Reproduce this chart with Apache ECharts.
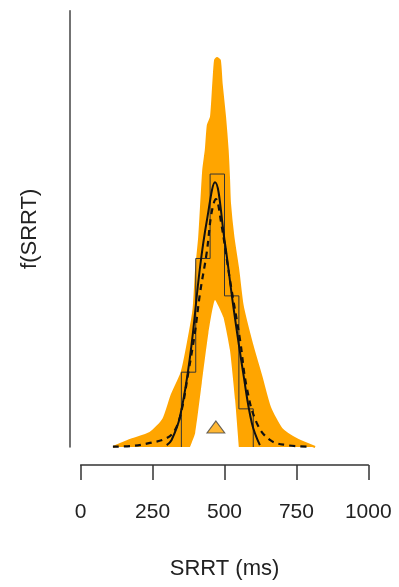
<!DOCTYPE html>
<html>
<head>
<meta charset="utf-8">
<script src="https://cdn.jsdelivr.net/npm/echarts@6/dist/echarts.min.js"></script>
<style>
html, body { margin: 0; background: #fff; }
#chart { width: 399px; height: 587px; }
</style>
</head>
<body>
<div id="chart"></div>
<script>
var xTicks = [0, 250, 500, 750, 1000];

// outer edge of the orange posterior predictive curves
var upperX = [113, 171, 241, 287, 316, 351, 371, 392, 401, 412, 426, 435, 442, 453, 461, 467, 474,
    484, 490, 502, 511, 516, 519, 531, 548, 563, 595, 629, 658, 699, 756, 815];
var upperY = [0, 0.00019, 0.00038, 0.00075, 0.0014, 0.00202, 0.00275, 0.0037, 0.00478, 0.00567,
    0.00748, 0.00802, 0.00869, 0.00891, 0.00982, 0.01044, 0.0105, 0.01044, 0.00982, 0.00891,
    0.00802, 0.00721, 0.00659, 0.00567, 0.00478, 0.00383, 0.00281, 0.00189, 0.00108, 0.00049,
    0.00019, 0];
// inner edge (below every curve)
var lowerX = [380, 398, 421, 444, 467, 496, 519, 537, 550];
var lowerY = [0, 0.00038, 0.00173, 0.00308, 0.00397, 0.00351, 0.00262, 0.00127, 0];

var histEdges = [350, 400, 450, 500, 550, 600];
var histDensity = [0.00202, 0.00509, 0.00737, 0.00408, 0.00103];

// observed data density (solid)
var obsX = [299, 316, 345, 380, 415, 439, 467, 500, 531, 565, 595, 623];
var obsY = [0.00005, 0.00019, 0.00081, 0.00243, 0.00486, 0.00613, 0.00715, 0.00559, 0.00378,
    0.002, 0.00065, 0.00005];

// mean predicted density (dashed)
var predX = [112, 182, 241, 299, 328, 351, 374, 397, 415, 438, 455, 470, 488, 519, 554, 577, 612,
    658, 716, 797];
var predY = [0.00001, 0.00003, 0.00011, 0.00024, 0.00046, 0.001, 0.002, 0.00308, 0.00416, 0.00524,
    0.00632, 0.00669, 0.00607, 0.00451, 0.00289, 0.00162, 0.00065, 0.00019, 0.00005, 0.00001];

var obsMean = [470, 0.00054];

function zip(xs, ys) {
    return xs.map(function (x, i) { return [x, ys[i]]; });
}

function histOutline(edges, dens) {
    var pts = [[edges[0], 0]];
    for (var i = 0; i < dens.length; i++) {
        pts.push([edges[i], dens[i]]);
        pts.push([edges[i + 1], dens[i]]);
    }
    pts.push([edges[edges.length - 1], 0]);
    return pts;
}

var font = 'Liberation Sans, Arial, sans-serif';
var chart = echarts.init(document.getElementById('chart'));

chart.setOption({
    animation: false,
    grid: { left: 80.7, right: 30.7, top: 10.7, bottom: 140 },
    xAxis: {
        type: 'value',
        min: 0,
        max: 1000,
        interval: 250,
        offset: 18,
        splitLine: { show: false },
        axisLine: { onZero: false, lineStyle: { color: '#333', width: 1.5 } },
        axisTick: { length: 15, lineStyle: { color: '#333', width: 1.5 } },
        axisLabel: {
            margin: 37, fontSize: 21, color: '#222', fontFamily: font,
            formatter: function (v) { return String(v); }
        },
        name: 'SRRT (ms)',
        nameLocation: 'middle',
        nameGap: 93,
        nameTextStyle: { fontSize: 22, color: '#222', fontFamily: font }
    },
    yAxis: {
        type: 'value',
        min: 0,
        max: 0.01178,
        offset: 11.4,
        splitLine: { show: false },
        axisTick: { show: false },
        axisLabel: { show: false },
        axisLine: { show: true, onZero: false, lineStyle: { color: '#444', width: 1.5 } },
        name: 'f(SRRT)',
        nameLocation: 'middle',
        nameRotate: 90,
        nameGap: 28,
        nameTextStyle: { fontSize: 22, color: '#222', fontFamily: font }
    },
    series: [
        {
            type: 'line', z: 1,
            data: zip(upperX, upperY),
            smooth: 0.2, symbol: 'none',
            lineStyle: { color: '#ffa500', width: 2 },
            areaStyle: { color: '#ffa500', opacity: 1 }
        },
        {
            type: 'line', z: 2,
            data: zip(lowerX, lowerY),
            smooth: 0.15, symbol: 'none',
            lineStyle: { width: 0 },
            areaStyle: { color: '#fff', opacity: 1 }
        },
        {
            type: 'line', z: 3,
            data: histOutline(histEdges, histDensity),
            symbol: 'none',
            lineStyle: { color: '#333', width: 1 }
        },
        {
            type: 'line', z: 4,
            data: zip(predX, predY),
            smooth: 0.4, symbol: 'none',
            lineStyle: { color: '#111', width: 2.2, type: [6, 5] }
        },
        {
            type: 'line', z: 5,
            data: zip(obsX, obsY),
            smooth: 0.4, symbol: 'none',
            lineStyle: { color: '#111', width: 2 }
        },
        {
            type: 'scatter', z: 6,
            data: [obsMean],
            symbol: 'triangle',
            symbolSize: [18, 12],
            itemStyle: { color: '#ffa500', borderColor: '#444', borderWidth: 1 }
        }
    ]
});
</script>
</body>
</html>
